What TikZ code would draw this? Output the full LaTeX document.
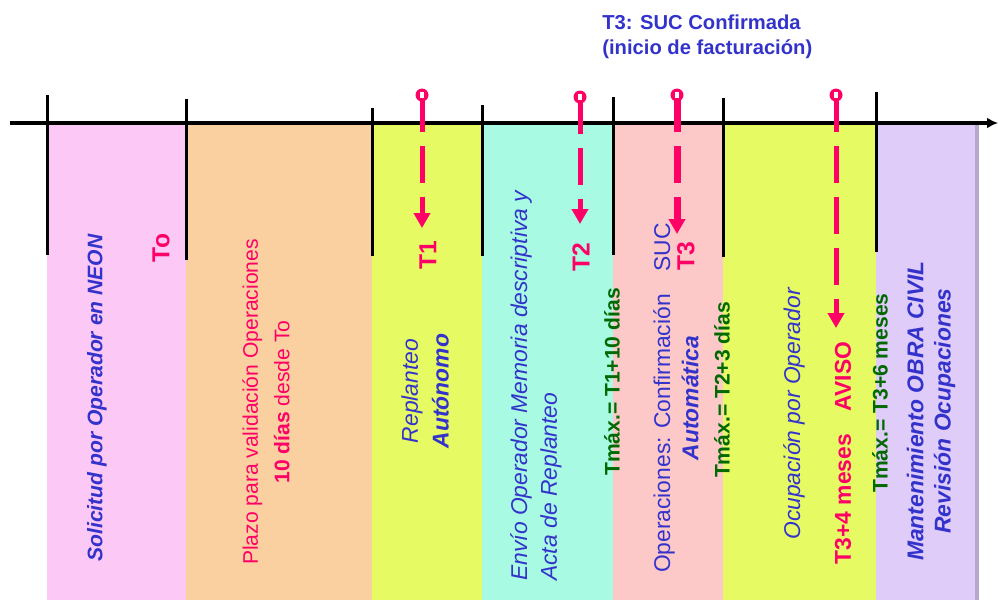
\documentclass[tikz,border=0pt]{standalone}
\usepackage{fontspec}
\setmainfont{Liberation Sans}
\usetikzlibrary{arrows.meta}
\definecolor{azul}{RGB}{51,51,204}
\definecolor{rojo}{RGB}{255,0,102}
\definecolor{verde}{RGB}{0,105,0}
\definecolor{rosa}{RGB}{252,200,246}
\definecolor{naranja}{RGB}{250,208,160}
\definecolor{lima}{RGB}{230,250,100}
\definecolor{menta}{RGB}{168,250,226}
\definecolor{salmon}{RGB}{252,200,200}
\definecolor{lila}{RGB}{224,204,248}
\tikzset{
  marca/.style={line width=0.06cm},
  hito/.style={circle,fill=rojo,inner sep=0pt,minimum size=0.26cm},
  flecha/.style={rojo,line width=0.1cm,dash pattern=on 0.74cm off 0.28cm,
    -{Triangle[length=0.3cm,width=0.32cm]}},
  etq/.style={rotate=90,inner sep=0pt,align=center},
  tiempo/.style={etq,text=rojo,font=\fontsize{14}{16}\selectfont\bfseries},
  tmax/.style={etq,text=verde,font=\fontsize{12}{14}\selectfont\bfseries},
}
\begin{document}
\begin{tikzpicture}[x=0.02cm,y=-0.02cm]
  \useasboundingbox (0,0) rectangle (998,600);
  % franjas
  \fill[rosa] (47,123) rectangle (186,600);
  \fill[naranja] (186,123) rectangle (372,600);
  \fill[lima] (372,123) rectangle (482,600);
  \fill[menta] (482,123) rectangle (613,600);
  \fill[salmon] (613,123) rectangle (723,600);
  \fill[lima] (723,123) rectangle (876,600);
  \fill[lila] (876,123) rectangle (975,600);
  \fill[black!18!lila] (975,123) rectangle (979,600);
  % eje de tiempo
  \coordinate (ini) at (10,123);
  \coordinate (fin) at (998,123);
  \draw[line width=0.08cm,-{Latex[length=0.22cm,width=0.22cm]}] (ini)--(fin);
  \draw[marca] (47,95)--(47,255);
  \draw[marca] (186,99)--(186,260);
  \draw[marca] (372,108)--(372,256);
  \draw[marca] (482,105)--(482,256);
  \draw[marca] (613,97)--(613,255);
  \draw[marca] (723,98)--(723,257);
  \draw[marca] (876,92)--(876,252);
  % hitos
  \node[hito] (p1) at (422,95) {};
  \node[hito] (p2) at (580,97) {};
  \node[hito] (p3) at (677,95) {};
  \node[hito] (p4) at (836,95) {};
  \coordinate (f1) at (422,228);
  \coordinate (f2) at (580,224);
  \coordinate (f3) at (677,234);
  \coordinate (f4) at (836,328);
  \draw[flecha] (p1.center)--(f1);
  \draw[flecha] (p2.center)--(f2);
  \draw[flecha,line width=0.14cm] (p3.center)--(f3);
  \draw[flecha] (p4.center)--(f4);
  \foreach \p in {p1,p2,p3,p4}
    \fill[white] ([shift={(-2,-3)}]\p.center) rectangle ([shift={(2,3)}]\p.center);
  % textos
  \node[align=left,anchor=north west,inner sep=0pt,text=azul,
    font=\fontsize{11.5}{14.5}\selectfont\bfseries] (tit) at (602,14)
    {T3: SUC Confirmada\\(inicio de facturación)};
  \node[etq,text=azul,font=\fontsize{12}{14}\selectfont\bfseries\itshape] (sol) at (97,398)
    {Solicitud por Operador en NEON};
  \node[tiempo] (to) at (161,248) {To};
  \node[etq,text=rojo,font=\fontsize{12}{18}\selectfont] (plazo) at (266,402)
    {Plazo para validación Operaciones\\\textbf{10 días} desde To};
  \node[tiempo] (t1) at (428,255) {T1};
  \node[etq,text=azul,font=\fontsize{13}{17.5}\selectfont\itshape] (repl) at (425,391)
    {Replanteo\\\textbf{Autónomo}};
  \node[etq,align=left,anchor=west,text=azul,font=\fontsize{13}{17}\selectfont\itshape] (envio) at (536,581)
    {Envío Operador Memoria descriptiva y\\Acta de Replanteo};
  \node[tiempo] (t2) at (581,257) {T2};
  \node[tmax] (tm1) at (612,382) {Tmáx.= T1+10 días};
  \node[etq,text=azul,font=\fontsize{13}{16}\selectfont] (oper) at (676,398)
    {Operaciones: Confirmación\quad SUC\\\textbf{\textit{Automática}}};
  \node[tiempo] (t3) at (686,256) {T3};
  \node[tmax] (tm2) at (722,390) {Tmáx.= T2+3 días};
  \node[etq,text=azul,font=\fontsize{13}{16}\selectfont\itshape] (ocup) at (794,414)
    {Ocupación por Operador};
  \node[tiempo,font=\fontsize{13}{16}\selectfont\bfseries] (aviso) at (843,453)
    {T3+4 meses\quad AVISO};
  \node[tmax] (tm3) at (880,393) {Tmáx.= T3+6 meses};
  \node[etq,text=azul,font=\fontsize{13}{15.5}\selectfont\bfseries\itshape] (mant) at (931,411)
    {Mantenimiento OBRA CIVIL\\Revisión Ocupaciones};
\end{tikzpicture}
\end{document}
